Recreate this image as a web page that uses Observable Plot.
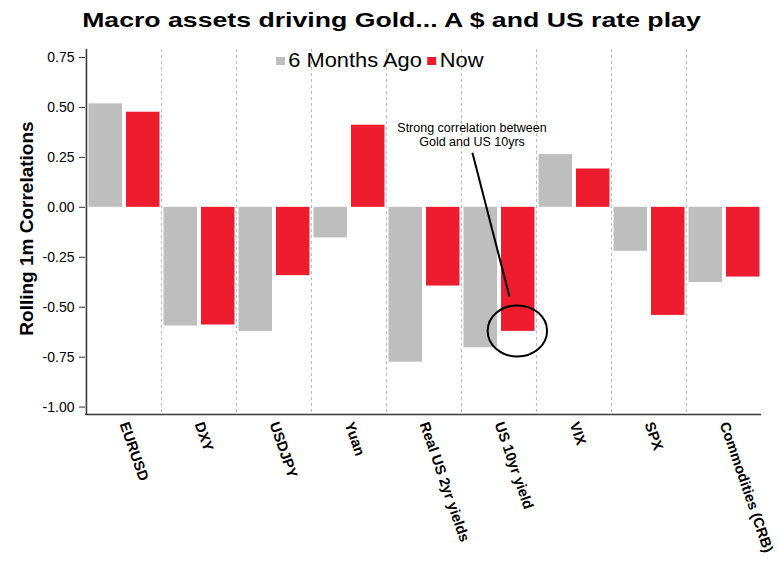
<!DOCTYPE html>
<html><head><meta charset="utf-8">
<script src="https://cdn.jsdelivr.net/npm/d3@7"></script>
<script src="https://cdn.jsdelivr.net/npm/@observablehq/plot@0.6"></script>
<style>
body{margin:0;background:#fff;font-family:"Liberation Sans",Arial,sans-serif;}
#wrap{position:relative;width:779px;height:562px;overflow:hidden;background:#fff;}
#chart{position:absolute;left:0;top:0;}
#title{position:absolute;left:0;top:10px;width:783px;text-align:center;font-weight:bold;font-size:20.5px;line-height:20.5px;color:#000;transform:scaleX(1.3);transform-origin:391.7px 0;white-space:nowrap;}
#legend{position:absolute;left:276px;top:50.5px;display:flex;align-items:flex-start;transform:scaleX(1.12);transform-origin:0 0;font-size:19.5px;line-height:19.5px;color:#000;white-space:nowrap;}
#legend .sw{width:8px;height:8px;margin-top:6.5px;margin-right:3px;}
#legend .lab{margin-right:5px;}
</style></head><body>
<div id="wrap"><div id="chart"></div><div id="title"></div><div id="legend"></div></div>
<script>
const categories = ["EURUSD","DXY","USDJPY","Yuan","Real US 2yr yields","US 10yr yield","VIX","SPX","Commodities (CRB)"];
const sixMonthsAgo = [0.518,-0.594,-0.621,-0.153,-0.775,-0.703,0.264,-0.220,-0.376];
const now = [0.476,-0.589,-0.342,0.411,-0.394,-0.621,0.192,-0.541,-0.349];
const seriesNames = ["6 Months Ago","Now"];
const seriesColors = ["#bebebe","#ed1c2e"];
const yTicks = [0.75,0.5,0.25,0,-0.25,-0.5,-0.75,-1];
const titleText = "Macro assets driving Gold... A $ and US rate play";
const yLabel = "Rolling 1m Correlations";
const noteText = "Strong correlation between\nGold and US 10yrs";
const noteCategory = "US 10yr yield";

const rows = categories.flatMap((c, i) => [
  {category: c, series: seriesNames[0], value: sixMonthsAgo[i]},
  {category: c, series: seriesNames[1], value: now[i]}
]);

const W = 779, H = 562, mL = 85, mR = 18, mT = 49, mB = 148;
const bw = (W - mL - mR) / categories.length;
const yDomain = [-1.037, 0.79];
const grayInset = {insetLeft: 2.5, insetRight: 39};
const redInset = {insetLeft: 40, insetRight: 1.5};
const fmt = d => (d < 0 ? "-" : "") + Math.abs(d).toFixed(2);

const chart = Plot.plot({
  width: W, height: H,
  marginLeft: mL, marginRight: mR, marginTop: mT, marginBottom: mB,
  style: {fontFamily: "'Liberation Sans', Arial, sans-serif", fontSize: "14px", color: "#000", background: "#fff"},
  x: {type: "band", domain: categories, padding: 0, axis: null},
  y: {domain: yDomain, axis: null},
  marks: [
    Plot.ruleX(categories.slice(1), {x: d => d, dx: -bw / 2, stroke: "#b8b8b8", strokeWidth: 1, strokeDasharray: "3,3"}),
    Plot.barY(rows.filter(d => d.series === seriesNames[0]), {x: "category", y: "value", fill: seriesColors[0], ...grayInset}),
    Plot.barY(rows.filter(d => d.series === seriesNames[1]), {x: "category", y: "value", fill: seriesColors[1], ...redInset}),
    Plot.ruleX([categories[0]], {x: d => d, dx: -bw / 2, stroke: "#3a3a3a", strokeWidth: 1.6}),
    Plot.ruleY([yDomain[0]], {stroke: "#3a3a3a", strokeWidth: 1.6}),
    Plot.axisY({ticks: yTicks, tickSize: 6, tickPadding: 5, tickFormat: fmt, fontSize: 14, label: null, stroke: "#333"}),
    Plot.axisX({tickSize: 0, tickRotate: 71, tickPadding: 8, textAnchor: "start", lineAnchor: "middle", fontSize: 14.5, fontWeight: "bold", label: null}),
    Plot.text([yLabel], {text: d => d, frameAnchor: "left", rotate: -90, dx: -53, dy: -3.5, lineAnchor: "bottom", textAnchor: "middle", fontSize: 19, fontWeight: "bold"}),
    Plot.text([noteText], {x: () => noteCategory, y: () => 0.363, text: d => d, dx: -27, textAnchor: "middle", lineAnchor: "middle", lineHeight: 1.06, fontSize: 12.5, fill: "#000"})
  ]
});
document.getElementById("chart").appendChild(chart);

// annotation pointer and ellipse, placed through the chart's scales
const sx = chart.scale("x"), sy = chart.scale("y");
const xb = d3.scaleBand(sx.domain, sx.range).paddingInner(sx.paddingInner || 0).paddingOuter(sx.paddingOuter || 0).align(sx.align ?? 0.5);
const yl = d3.scaleLinear(sy.domain, sy.range);
const ni = categories.indexOf(noteCategory);
const redCenter = xb(noteCategory) + redInset.insetLeft + (xb.bandwidth() - redInset.insetLeft - redInset.insetRight) / 2;
const g = d3.select(chart).append("g").attr("fill", "none").attr("stroke", "#000");
g.append("line")
  .attr("x1", xb(noteCategory) + xb.bandwidth() / 2 - 25.7).attr("y1", yl(0.271))
  .attr("x2", redCenter - 8).attr("y2", yl(-0.448))
  .attr("stroke-width", 2);
g.append("ellipse")
  .attr("cx", redCenter).attr("cy", yl(now[ni]))
  .attr("rx", 29.7).attr("ry", 25.5)
  .attr("stroke-width", 2);

document.getElementById("title").textContent = titleText;
const leg = document.getElementById("legend");
seriesNames.forEach((name, i) => {
  const sw = document.createElement("span"); sw.className = "sw"; sw.style.background = seriesColors[i];
  const lab = document.createElement("span"); lab.className = "lab"; lab.textContent = name;
  leg.appendChild(sw); leg.appendChild(lab);
});
</script>
</body></html>
